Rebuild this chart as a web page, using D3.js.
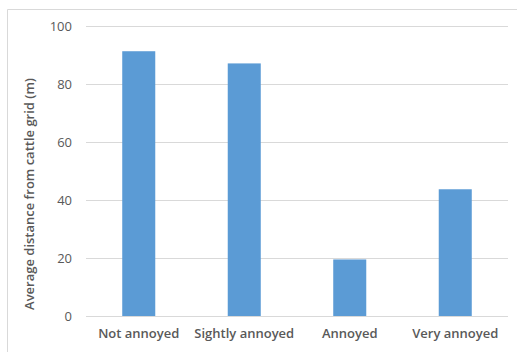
<!DOCTYPE html>
<html>
<head>
<meta charset="utf-8">
<script src="https://cdn.jsdelivr.net/npm/d3@7"></script>
<style>
  html, body { margin: 0; padding: 0; background: #fff; }
  svg { display: block; }
</style>
</head>
<body>
<svg id="chart" width="517" height="352"></svg>
<script>
// Annoyance categories and the average distance (m) for each
const categories = ["Not annoyed", "Sightly annoyed", "Annoyed", "Very annoyed"];
const distances = [91.3, 87.1, 19.5, 43.7];
const yTicks = [0, 20, 40, 60, 80, 100];
const yTitle = "Average distance from cattle grid (m)";

const svg = d3.select("#chart");
const W = 517, H = 352;
const plot = { left: 86, right: 508, top: 26, bottom: 316 };
const font = "'Open Sans', 'Noto Sans', 'DejaVu Sans', sans-serif";
const textColor = "#595959";

// Chart frame (runs off the right and bottom edges)
svg.append("path")
  .attr("d", `M7.5,${H + 2} V9.5 H${W + 2}`)
  .attr("fill", "none")
  .attr("stroke", "#d9d9d9")
  .attr("stroke-width", 1);

const x = d3.scaleBand()
  .domain(categories)
  .range([plot.left, plot.right])
  .padding(0);

const y = d3.scaleLinear()
  .domain([0, 100])
  .range([plot.bottom, plot.top]);

const barWidth = x.bandwidth() * 0.313;

// Horizontal gridlines
svg.append("g")
  .selectAll("line")
  .data(yTicks)
  .join("line")
  .attr("x1", plot.left)
  .attr("x2", plot.right)
  .attr("y1", d => Math.round(y(d)) + 0.5)
  .attr("y2", d => Math.round(y(d)) + 0.5)
  .attr("stroke", "#d9d9d9")
  .attr("stroke-width", 1);

// Bars
svg.append("g")
  .selectAll("rect")
  .data(categories)
  .join("rect")
  .attr("x", d => x(d) + x.bandwidth() / 2 - barWidth / 2)
  .attr("width", barWidth)
  .attr("y", (d, i) => y(distances[i]))
  .attr("height", (d, i) => y(0) - y(distances[i]))
  .attr("fill", "#5b9bd5");

// Y axis tick labels
const yAxis = d3.axisLeft(y).tickValues(yTicks).tickSize(0).tickPadding(14);
const gy = svg.append("g")
  .attr("transform", `translate(${plot.left},0)`)
  .call(yAxis);
gy.select(".domain").remove();
gy.selectAll("text")
  .attr("fill", textColor)
  .style("font-family", font)
  .style("font-size", "13px");

// X axis category labels
const xAxis = d3.axisBottom(x).tickSize(0).tickPadding(13);
const gx = svg.append("g")
  .attr("transform", `translate(0,${plot.bottom})`)
  .call(xAxis);
gx.select(".domain").remove();
gx.selectAll("text")
  .attr("fill", textColor)
  .style("font-family", font)
  .style("font-size", "13px")
  .style("font-weight", "600");

// Y axis title
svg.append("text")
  .attr("transform", `translate(34,194) rotate(-90)`)
  .attr("text-anchor", "middle")
  .attr("fill", textColor)
  .style("font-family", font)
  .style("font-size", "13px")
  .style("font-weight", "600")
  .text(yTitle);
</script>
</body>
</html>
